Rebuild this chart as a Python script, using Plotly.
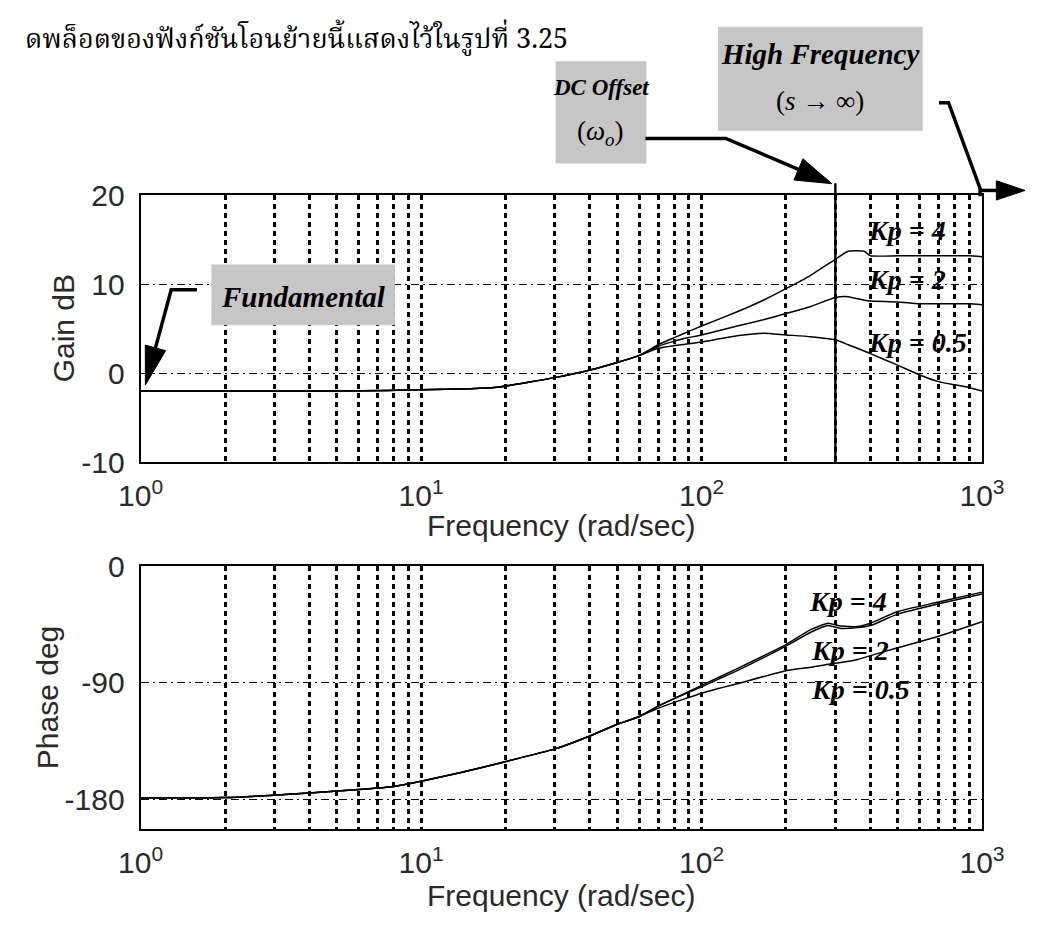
import math
import plotly.graph_objects as go
from plotly.subplots import make_subplots

# ---- Bode magnitude data (rad/sec, dB) ----
omega_gain = [1, 2, 3, 5, 7.6, 10, 15, 19, 30, 40, 50, 60, 70, 80, 90, 100,
              134, 166, 200, 245, 300, 333, 380, 400, 500, 600, 700, 800, 900, 1000]
gain_kp4 = [-2.0, -2.0, -2.0, -2.0, -1.95, -1.85, -1.75, -1.55, -0.5, 0.35, 1.2, 2.0,
            3.2, 4.0, 4.7, 5.3, 6.9, 8.2, 9.5, 11.0, 12.8, 13.7, 13.7, 13.2, 13.2,
            13.2, 13.2, 13.2, 13.2, 13.1]
gain_kp2 = [-2.0, -2.0, -2.0, -2.0, -1.95, -1.85, -1.75, -1.55, -0.5, 0.35, 1.2, 2.0,
            3.0, 3.6, 4.0, 4.3, 5.3, 6.0, 6.7, 7.5, 8.5, 8.6, 8.2, 8.1, 8.0,
            7.8, 7.8, 7.8, 7.8, 7.7]
gain_kp05 = [-2.0, -2.0, -2.0, -2.0, -1.95, -1.85, -1.75, -1.55, -0.5, 0.35, 1.2, 2.0,
             2.8, 3.1, 3.3, 3.5, 4.2, 4.5, 4.3, 4.1, 3.75, 3.2, 2.5, 2.2, 0.9,
             -0.2, -0.95, -1.3, -1.6, -2.0]

# ---- Bode phase data (rad/sec, deg) ----
omega_phase = [1, 2, 3, 4, 6, 8, 10, 14, 19, 30, 40, 50, 60, 70, 100, 134,
               200, 245, 283, 310, 360, 400, 500, 700, 1000]
phase_kp4 = [-178.7, -178.5, -176.7, -175, -172.4, -170, -166, -159, -152, -141,
             -131, -122, -116, -108, -92, -79, -60.5, -49, -44, -46, -46.6, -44,
             -35, -27.7, -20]
phase_kp2 = [-178.7, -178.5, -176.7, -175, -172.4, -170, -166, -159, -152, -141,
             -131, -122, -116, -108, -93, -80.6, -61.7, -51, -45.8, -47.9, -47.4,
             -45.8, -37, -29, -21.4]
phase_kp05 = [-178.7, -178.5, -176.7, -175, -172.4, -170, -166, -159, -152, -141,
              -131, -122, -116, -109.6, -98, -90.7, -80.6, -78, -75.6, -74.5, -72,
              -69, -63, -54, -42.8]

omega_o = 300  # DC offset frequency marker

# ---- axis ticks ----
freq_ticks = [1, 10, 100, 1000]
freq_ticktext = ["10<sup>0</sup>", "10<sup>1</sup>", "10<sup>2</sup>", "10<sup>3</sup>"]
freq_minor = [2, 3, 4, 5, 6, 7, 8, 9, 20, 30, 40, 50, 60, 70, 80, 90,
              200, 300, 400, 500, 600, 700, 800, 900]
gain_ticks = [-10, 0, 10, 20]
gain_ticktext = ["-10", "0", "10", "20"]
phase_ticks = [-180, -90, 0]
phase_ticktext = ["-180", "-90", "0"]

W, H = 1049, 932


def px(x):
    return x / W


def py(y):
    return 1 - y / H


fig = make_subplots(rows=2, cols=1)

curve = dict(color="black", width=1.5, shape="spline", smoothing=0.5)
for ys in (gain_kp4, gain_kp2, gain_kp05):
    fig.add_trace(go.Scatter(x=omega_gain, y=ys, mode="lines", line=curve,
                             showlegend=False), row=1, col=1)
for ys in (phase_kp4, phase_kp2, phase_kp05):
    fig.add_trace(go.Scatter(x=omega_phase, y=ys, mode="lines", line=curve,
                             showlegend=False), row=2, col=1)

tick_font = dict(family="Liberation Sans, Arial", size=30, color="#2a2a2a")
xdom = [px(123), px(1003)]

common_x = dict(
    type="log", range=[0, 3], tickmode="array", tickvals=freq_ticks,
    ticktext=freq_ticktext, tickfont=tick_font, ticks="",
    showgrid=True, gridcolor="black", gridwidth=2.6, griddash="5px,4px",
    minor=dict(tickmode="array", tickvals=freq_minor, showgrid=True,
               gridcolor="black", gridwidth=2.6, griddash="5px,4px", ticks=""),
    showline=True, linecolor="black", linewidth=2, mirror=True,
    zeroline=False, ticklabelstandoff=6, domain=xdom,
)
fig.update_xaxes(**common_x)

common_y = dict(
    tickfont=tick_font, ticks="", showgrid=True, gridcolor="black",
    gridwidth=1.2, griddash="8px,4px,2px,4px", showline=True,
    linecolor="black", linewidth=2, mirror=True, zeroline=False,
    ticklabelstandoff=8, tickmode="array",
)
fig.update_yaxes(range=[-10, 20], tickvals=gain_ticks, ticktext=gain_ticktext,
                 domain=[py(462), py(185)], row=1, col=1, **common_y)
fig.update_yaxes(range=[-203, 0], tickvals=phase_ticks, ticktext=phase_ticktext,
                 domain=[py(843), py(570)], row=2, col=1, **common_y)

shapes = []
annotations = []

# DC offset marker line through the magnitude plot
shapes.append(dict(type="line", xref="x", yref="y domain", x0=omega_o, x1=omega_o,
                   y0=0, y1=1.045, line=dict(color="black", width=2.4)))

serif = "Liberation Serif, Times New Roman, serif"
box_fill = "#c6c6c6"


def box(x0, y0, x1, y1):
    shapes.append(dict(type="rect", xref="paper", yref="paper",
                       x0=px(x0), x1=px(x1), y0=py(y1), y1=py(y0),
                       fillcolor=box_fill, line=dict(width=0), layer="above"))


def text(x, y, s, size=28, family=serif, color="black", xanchor="center", **kw):
    annotations.append(dict(xref="paper", yref="paper", x=px(x), y=py(y), text=s,
                            showarrow=False,
                            font=dict(family=family, size=size, color=color),
                            xanchor=xanchor, yanchor="middle", **kw))


def path_of(points, close=False):
    d = "M" + " L".join(f"{px(a)},{py(b)}" for a, b in points)
    return d + (" Z" if close else "")


def pointer(points, head_len, head_half, width=3.5):
    """Polyline in page pixels ending in a filled triangular head."""
    (ax_, ay_), (bx, by) = points[-2], points[-1]
    dx, dy = bx - ax_, by - ay_
    n = math.hypot(dx, dy)
    ux, uy = dx / n, dy / n
    cx, cy = bx - head_len * ux, by - head_len * uy
    shaft = points[:-1] + [(cx, cy)]
    shapes.append(dict(type="path", xref="paper", yref="paper", path=path_of(shaft),
                       line=dict(color="black", width=width), layer="above"))
    head = [(bx, by), (cx - head_half * uy, cy + head_half * ux),
            (cx + head_half * uy, cy - head_half * ux)]
    shapes.append(dict(type="path", xref="paper", yref="paper",
                       path=path_of(head, close=True), fillcolor="black",
                       line=dict(color="black", width=1), layer="above"))


# annotation boxes
box(557, 46, 652, 152)
text(604, 73, "<b><i>DC Offset</i></b>", size=23)
text(604, 120, "(<i>ω<sub>o</sub></i>)", size=27)

box(727, 10, 941, 118)
text(834, 38, "<b><i>High Frequency</i></b>", size=29)
text(834, 87, "(<i>s</i> → ∞)", size=27)

box(197, 257, 389, 320)
text(293, 291, "<b><i>Fundamental</i></b>", size=29)

# pointer arrows
pointer([(182, 283), (155, 283), (128, 382)], 40, 11)
pointer([(651, 126), (735, 126), (846, 173)], 38, 12)
shapes.append(dict(type="path", xref="paper", yref="paper",
                   path=path_of([(958, 89), (968, 89), (1001, 178), (1001, 186)]),
                   line=dict(color="black", width=3.5), layer="above"))
pointer([(1001, 180), (1048, 180)], 30, 10)

# gain labels
text(882, 222, "<b><i>Kp = 4</i></b>", size=28, xanchor="left")
text(882, 272, "<b><i>Kp = 2</i></b>", size=28, xanchor="left")
text(882, 338, "<b><i>Kp = 0.5</i></b>", size=28, xanchor="left")
text(820, 607, "<b><i>Kp = 4</i></b>", size=28, xanchor="left")
text(822, 657, "<b><i>Kp = 2</i></b>", size=28, xanchor="left")
text(822, 698, "<b><i>Kp = 0.5</i></b>", size=28, xanchor="left")

# axis titles
sans = "Liberation Sans, Arial, sans-serif"
text(563, 528, "Frequency (rad/sec)", size=30, family=sans, color="#2a2a2a")
text(563, 912, "Frequency (rad/sec)", size=30, family=sans, color="#2a2a2a")
text(42, 323, "Gain dB", size=30, family=sans, color="#2a2a2a", textangle=-90)
text(25, 706, "Phase deg", size=30, family=sans, color="#2a2a2a", textangle=-90)

# running text line above the figure
annotations.append(dict(xref="paper", yref="paper", x=0, y=1,
                        text="ดพล็อตของฟังก์ชันโอนย้ายนี้แสดงไว้ในรูปที่ 3.25",
                        showarrow=False, xanchor="left", yanchor="top",
                        font=dict(family="Noto Serif Thai, Noto Sans Thai, Loma, Garuda, serif",
                                  size=27, color="black")))

fig.update_layout(
    width=W, height=H, margin=dict(l=0, r=0, t=0, b=0),
    paper_bgcolor="white", plot_bgcolor="white",
    shapes=shapes, annotations=annotations, showlegend=False,
)

fig.write_html("out.html")
